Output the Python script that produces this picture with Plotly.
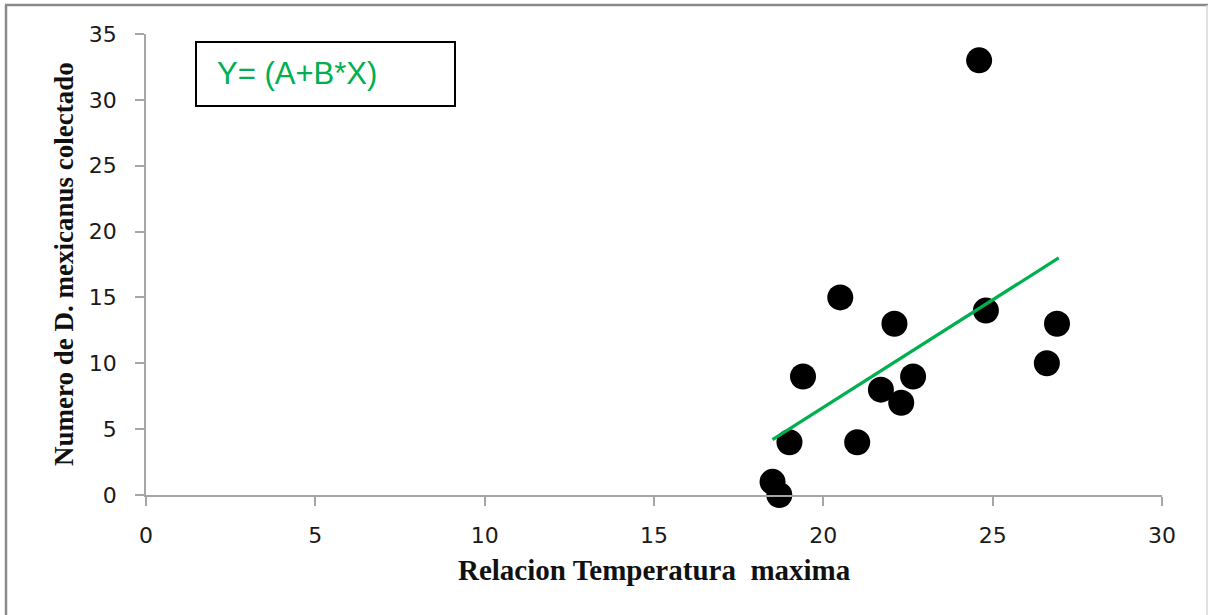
import plotly.graph_objects as go

# Data
temp_max = [18.5, 18.7, 19.0, 19.4, 20.5, 21.0, 21.7, 22.1, 22.3, 22.65, 24.6, 24.8, 26.6, 26.9]
num_collected = [1, 0, 4, 9, 15, 4, 8, 13, 7, 9, 33, 14, 10, 13]

# Linear trend line endpoints
trend_x = [18.5, 26.95]
trend_y = [4.2, 18.0]

x_ticks = [0, 5, 10, 15, 20, 25, 30]
y_ticks = [0, 5, 10, 15, 20, 25, 30, 35]

x_title = "Relacion Temperatura  maxima"
y_title = "Numero de D. mexicanus colectado"
eq_text = "Y= (A+B*X)"

W, H = 1209, 615
L, R, T, B = 146, 47, 34, 120
pw, ph = W - L - R, H - T - B


def px2paper_x(px):
    return (px - L) / pw


def px2paper_y(py):
    return (H - B - py) / ph


fig = go.Figure()
fig.add_trace(go.Scatter(
    x=temp_max, y=num_collected, mode="markers",
    marker=dict(size=26, color="black", line=dict(width=0)),
    showlegend=False, cliponaxis=False,
))
fig.add_trace(go.Scatter(
    x=trend_x, y=trend_y, mode="lines",
    line=dict(color="#00b050", width=3.2),
    showlegend=False,
))

axis_common = dict(
    showgrid=False, zeroline=False, showline=True, linecolor="#a6a6a6", linewidth=1.5,
    ticks="outside", ticklen=9, tickwidth=1.5, tickcolor="#a6a6a6",
    tickfont=dict(family="DejaVu Sans", size=22, color="#1a1a1a"),
)

fig.update_layout(
    width=W, height=H,
    margin=dict(l=L, r=R, t=T, b=B),
    paper_bgcolor="white", plot_bgcolor="white",
    xaxis=dict(range=[0, 30], tickvals=x_ticks, ticklabelstandoff=11, **axis_common),
    yaxis=dict(range=[0, 35], tickvals=y_ticks, ticklabelstandoff=14, **axis_common),
    shapes=[
        # outer chart frame
        dict(type="line", xref="paper", yref="paper",
             x0=px2paper_x(6), x1=px2paper_x(6), y0=px2paper_y(5), y1=px2paper_y(640),
             line=dict(color="#8a8a8a", width=2.5)),
        dict(type="line", xref="paper", yref="paper",
             x0=px2paper_x(5), x1=px2paper_x(1208), y0=px2paper_y(5), y1=px2paper_y(5),
             line=dict(color="#8a8a8a", width=2.5)),
        dict(type="line", xref="paper", yref="paper",
             x0=px2paper_x(1207), x1=px2paper_x(1207), y0=px2paper_y(5), y1=px2paper_y(640),
             line=dict(color="#d9d9d9", width=1.5)),
        # equation box
        dict(type="rect", xref="paper", yref="paper",
             x0=px2paper_x(196), x1=px2paper_x(455), y0=px2paper_y(42), y1=px2paper_y(106),
             line=dict(color="black", width=2), fillcolor="white"),
    ],
    annotations=[
        dict(text=eq_text, xref="paper", yref="paper",
             x=px2paper_x(215), y=px2paper_y(73), xanchor="left", yanchor="middle",
             showarrow=False, font=dict(family="Liberation Sans", size=31, color="#00b050")),
        dict(text="<b>" + x_title + "</b>", xref="paper", yref="paper",
             x=px2paper_x(654), y=px2paper_y(570), xanchor="center", yanchor="middle",
             showarrow=False, font=dict(family="Liberation Serif", size=29, color="#111111")),
        dict(text="<b>" + y_title + "</b>", xref="paper", yref="paper",
             x=px2paper_x(64), y=px2paper_y(264), xanchor="center", yanchor="middle",
             textangle=-90, showarrow=False,
             font=dict(family="Liberation Serif", size=27, color="#111111")),
    ],
)

fig.write_html("out.html")
